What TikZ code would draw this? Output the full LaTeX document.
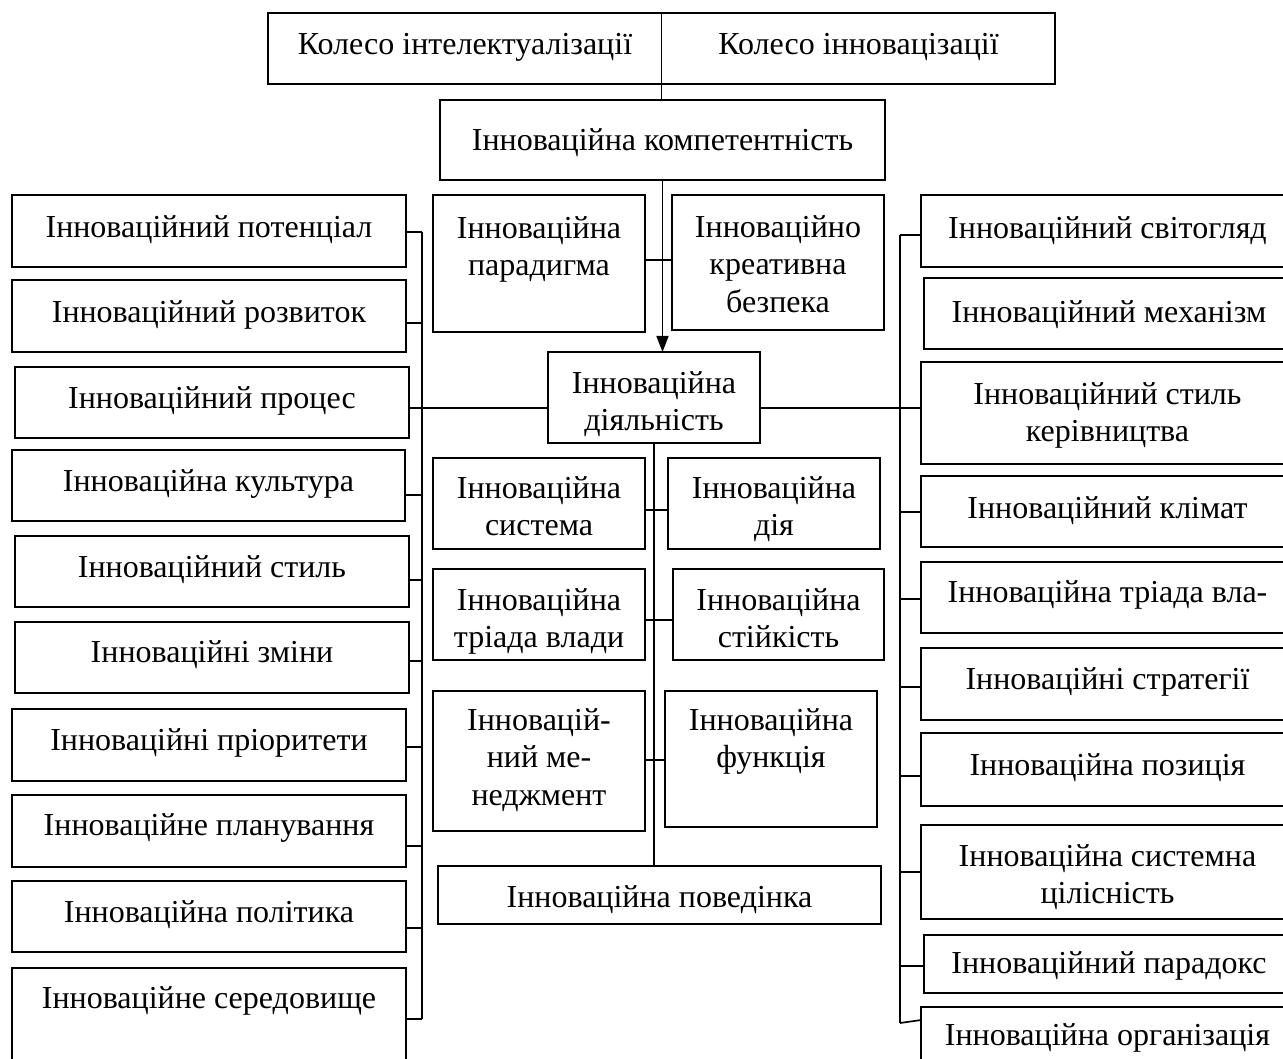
\documentclass[tikz,border=0pt]{standalone}
\usepackage{fontspec}
\setmainfont{Liberation Serif}
\usetikzlibrary{arrows.meta,calc,fit}
\tikzset{
  boxframe/.style={draw, line width=1.7pt, inner sep=0pt, outer sep=0pt},
  txt/.style={font=\fontsize{32}{37.5}\selectfont, align=center, inner sep=0pt, anchor=north, yshift=12pt},
  conn/.style={line width=1.7pt},
}
% name, x1, y1, x2, y2, first-line y, text
\newcommand\bx[7]{%
  \node[boxframe, fit={(#2,#3) (#4,#5)}] (#1) {};
  \node[txt] (#1t) at (#1.center |- 0,#6) {#7};
}
\begin{document}
\begin{tikzpicture}[x=1pt,y=-1pt]
\useasboundingbox (0,0) rectangle (1283,1059);
\begin{scope}
\clip (0,0) rectangle (1283,1059);

% top
\node[boxframe, fit={(268,13) (1055,84)}] (top) {};
\node[txt] (top1) at (465,45) {Колесо інтелектуалізації};
\node[txt] (top2) at (858.5,45) {Колесо інновацізації};

% centre
\bx{comp}{440}{100}{885}{180}{140}{Інноваційна компетентність}
\bx{par}{433}{195}{645}{332}{228}{Інноваційна\\парадигма}
\bx{kre}{672}{195}{884}{330}{227}{Інноваційно\\креативна\\безпека}
\bx{diy}{548}{352}{760}{443}{383}{Інноваційна\\діяльність}
\bx{sys}{433}{458}{645}{549}{488}{Інноваційна\\система}
\bx{dia}{668}{458}{880}{549}{488}{Інноваційна\\дія}
\bx{tri}{433}{569}{645}{660}{600}{Інноваційна\\тріада влади}
\bx{sti}{673}{569}{884}{660}{600}{Інноваційна\\стійкість}
\bx{men}{433}{691}{645}{831}{720}{Інновацій-\\ний ме-\\неджмент}
\bx{fun}{665}{691}{877}{827}{720}{Інноваційна\\функція}
\bx{pov}{438}{866}{881}{924}{897}{Інноваційна поведінка}

% left column
\bx{L1}{12}{195}{406}{267}{227}{Інноваційний потенціал}
\bx{L2}{12}{280}{406}{352}{312}{Інноваційний розвиток}
\bx{L3}{15}{367}{409}{438}{398}{Інноваційний процес}
\bx{L4}{12}{450}{405}{521}{481}{Інноваційна культура}
\bx{L5}{15}{536}{409}{607}{567}{Інноваційний стиль}
\bx{L6}{15}{622}{409}{693}{652}{Інноваційні зміни}
\bx{L7}{12}{709}{406}{781}{740}{Інноваційні пріоритети}
\bx{L8}{12}{795}{406}{867}{825}{Інноваційне планування}
\bx{L9}{12}{881}{406}{952}{912}{Інноваційна політика}
\bx{L10}{12}{968}{406}{1090}{998}{Інноваційне середовище}

% right column
\bx{R1}{921}{195}{1294}{267}{228}{Інноваційний світогляд}
\bx{R2}{924}{278}{1294}{349}{312}{Інноваційний механізм}
\bx{R3}{921}{362}{1294}{464}{394}{Інноваційний стиль\\керівництва}
\bx{R4}{921}{476}{1294}{547}{508}{Інноваційний клімат}
\bx{R5}{921}{562}{1294}{633}{592}{Інноваційна тріада вла-}
\bx{R6}{921}{648}{1294}{720}{679}{Інноваційні стратегії}
\bx{R7}{921}{733}{1294}{806}{765}{Інноваційна позиція}
\bx{R8}{921}{825}{1294}{919}{856}{Інноваційна системна\\цілісність}
\bx{R9}{924}{935}{1294}{993}{963}{Інноваційний парадокс}
\bx{R10}{921}{1007}{1294}{1090}{1035}{Інноваційна організація}

% connectors
\coordinate (lb) at (422,0);
\coordinate (rb) at (900,0);
\draw[conn] (top.north) -- (top.north |- comp.north);
\draw[conn, -{Triangle[width=12pt,length=16pt]}] (comp.south) -- (comp.south |- diy.north);
\draw[conn] (par.east |- 0,260) -- (kre.west |- 0,260);
\draw[conn] (diy.south) -- (diy.south |- pov.north);
\draw[conn] (sys.east |- 0,510) -- (dia.west |- 0,510);
\draw[conn] (tri.east |- 0,620) -- (sti.west |- 0,620);
\draw[conn] (men.east |- 0,760) -- (fun.west |- 0,760);

\draw[conn] (lb |- 0,232) -- (lb |- 0,1019);
\draw[conn] (rb |- 0,235) -- (rb |- 0,1023);
\foreach \n/\y in {L1/232, L2/323, L4/495, L5/580, L6/661, L7/747, L8/846, L9/928, L10/1019}
  \draw[conn] (\n.east |- 0,\y) -- (lb |- 0,\y);
\draw[conn] (L3.east |- 0,408) -- (diy.west |- 0,408);
\draw[conn] (diy.east |- 0,408) -- (R3.west |- 0,408);
\foreach \n/\y in {R1/235, R4/512, R5/599, R6/687, R7/776, R8/872, R9/966}
  \draw[conn] (rb |- 0,\y) -- (\n.west |- 0,\y);
\draw[conn] (rb |- 0,1023) -- (R10.west |- 0,1020);
\end{scope}
\end{tikzpicture}
\end{document}
